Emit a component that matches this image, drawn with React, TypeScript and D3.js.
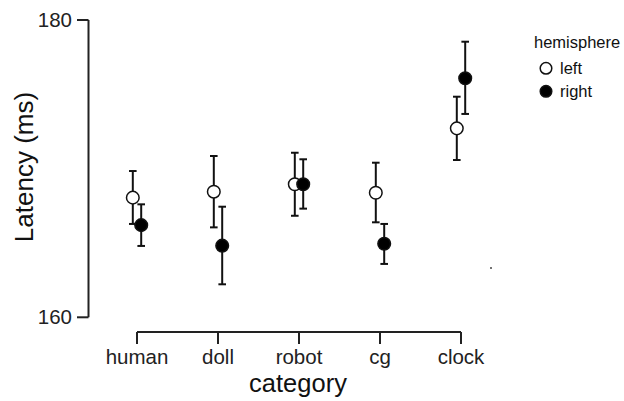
import React from "react";
import * as d3 from "d3";

const categories = ["human", "doll", "robot", "cg", "clock"];
const seriesNames = ["left", "right"];
const leftMean = [168.05, 168.45, 168.95, 168.38, 172.71];
const leftLow = [166.28, 166.05, 166.83, 166.39, 170.58];
const leftHigh = [169.84, 170.85, 171.07, 170.4, 174.84];
const rightMean = [166.2, 164.82, 168.95, 164.95, 176.08];
const rightLow = [164.8, 162.22, 167.31, 163.59, 173.68];
const rightHigh = [167.6, 167.44, 170.63, 166.28, 178.54];
const yTicks = [160, 180];

const FONT = "'Liberation Sans', Arial, sans-serif";

export default function App() {
  const W = 624;
  const H = 401;
  const y = d3.scaleLinear().domain([160, 180]).range([317.3, 20]);
  const x = d3.scalePoint<string>().domain(categories).range([137, 461]);
  const dodge = 4.2;
  const axisX = 88.5;
  const axisY = 332;

  const series = [
    { name: seriesNames[0], mean: leftMean, low: leftLow, high: leftHigh, off: -dodge, fill: "#fff" },
    { name: seriesNames[1], mean: rightMean, low: rightLow, high: rightHigh, off: dodge, fill: "#000" },
  ];

  const cap = 3.8;

  return (
    <svg
      width={W}
      height={H}
      style={{ position: "absolute", left: 0, top: 0, background: "#fff" }}
      fontFamily={FONT}
    >
      <rect x={0} y={0} width={W} height={H} fill="#fff" />
      {/* y axis */}
      <line x1={axisX} x2={axisX} y1={y(180)} y2={y(160)} stroke="#222" strokeWidth={2} />
      {yTicks.map((t) => (
        <g key={t}>
          <line x1={axisX - 11.5} x2={axisX} y1={y(t)} y2={y(t)} stroke="#222" strokeWidth={2} />
          <text x={72} y={y(t)} dy="0.35em" textAnchor="end" fontSize={20.5} fill="#222">
            {t}
          </text>
        </g>
      ))}
      <text
        transform={`translate(33,167) rotate(-90)`}
        textAnchor="middle"
        fontSize={26}
        fill="#111"
      >
        Latency (ms)
      </text>
      {/* x axis */}
      <line
        x1={x(categories[0])!}
        x2={x(categories[categories.length - 1])!}
        y1={axisY}
        y2={axisY}
        stroke="#222"
        strokeWidth={2}
      />
      {categories.map((c) => (
        <g key={c}>
          <line x1={x(c)!} x2={x(c)!} y1={axisY} y2={axisY + 12} stroke="#222" strokeWidth={2} />
          <text x={x(c)!} y={364} textAnchor="middle" fontSize={20.5} fill="#222">
            {c}
          </text>
        </g>
      ))}
      <text x={298} y={392} textAnchor="middle" fontSize={25.5} fill="#111">
        category
      </text>
      {/* error bars */}
      {series.map((s) =>
        categories.map((c, i) => {
          const cx = x(c)! + s.off;
          return (
            <g key={s.name + c + "e"} stroke="#111" strokeWidth={2}>
              <line x1={cx} x2={cx} y1={y(s.high[i])} y2={y(s.low[i])} />
              <line x1={cx - cap} x2={cx + cap} y1={y(s.high[i])} y2={y(s.high[i])} />
              <line x1={cx - cap} x2={cx + cap} y1={y(s.low[i])} y2={y(s.low[i])} />
            </g>
          );
        })
      )}
      {/* points */}
      {series.map((s) =>
        categories.map((c, i) => (
          <circle
            key={s.name + c + "p"}
            cx={x(c)! + s.off}
            cy={y(s.mean[i])}
            r={6.3}
            fill={s.fill}
            stroke="#111"
            strokeWidth={1.5}
          />
        ))
      )}
      {/* legend */}
      <text x={534} y={48} fontSize={16.5} fill="#111">
        hemisphere
      </text>
      {series.map((s, i) => (
        <g key={s.name + "leg"}>
          <circle cx={546} cy={68.3 + i * 23} r={5.8} fill={s.fill} stroke="#111" strokeWidth={1.5} />
          <text x={560} y={73.5 + i * 23} fontSize={16.5} fill="#111">
            {s.name}
          </text>
        </g>
      ))}
      <circle cx={491} cy={268} r={1} fill="#444" />
    </svg>
  );
}
